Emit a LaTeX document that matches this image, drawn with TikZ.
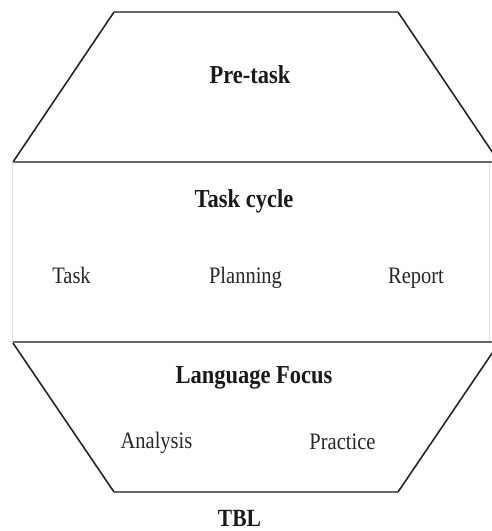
\documentclass[tikz,border=0pt]{standalone}
\usepackage{fontspec}
\setmainfont{Liberation Serif}
\usepackage{graphicx}
\newcommand{\stretchtx}[1]{\scalebox{1}[1.15]{#1}}
\begin{document}
\begin{tikzpicture}[x=1pt,y=-1pt,
  slant/.style={draw=black!85,line width=1.6pt},
  hline/.style={draw=black!60,line width=1.6pt},
  faint/.style={draw=black!12,line width=0.8pt},
  head/.style={anchor=base,inner sep=0pt,font=\fontsize{22.5}{26}\selectfont\bfseries,text=black!90},
  item/.style={anchor=base,inner sep=0pt,font=\fontsize{20.5}{24}\selectfont,text=black!85}]
\useasboundingbox (0,0) rectangle (492,531);
\begin{scope}
\clip (0,0) rectangle (492,531);
% middle band side edges
\draw[faint] (12,162) -- (12,342);
\draw[faint] (489,162) -- (489,342);
% top trapezoid
\draw[slant] (13,162) -- (114,12);
\draw[slant] (398,12) -- (499,162);
\draw[hline] (114,12) -- (398,12);
\draw[hline] (13,162) -- (499,162);
% bottom trapezoid
\draw[hline] (13,342) -- (499,342);
\draw[slant] (13,343) -- (114,492);
\draw[slant] (398,492) -- (499,343);
\draw[hline] (114,492) -- (398,492);
\end{scope}
\node[head] (pretask) at (250,83) {\stretchtx{Pre-task}};
\node[head] (cycle) at (244,207) {\stretchtx{Task cycle}};
\node[item] (task) at (71.5,283) {\stretchtx{Task}};
\node[item] (plan) at (245.5,283) {\stretchtx{Planning}};
\node[item] (report) at (416,283) {\stretchtx{Report}};
\node[head] (focus) at (254,383) {\stretchtx{Language Focus}};
\node[item] (analysis) at (156.5,448) {\stretchtx{Analysis}};
\node[item] (practice) at (342.5,449) {\stretchtx{Practice}};
\node[head,font=\fontsize{21.5}{25}\selectfont\bfseries] (tbl) at (239.5,526) {\stretchtx{TBL}};
\end{tikzpicture}
\end{document}
